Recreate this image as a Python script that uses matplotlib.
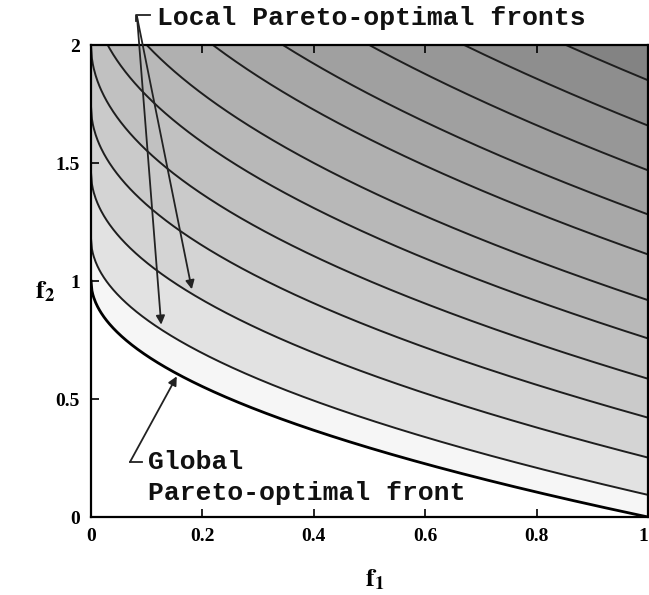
import numpy as np
import matplotlib
matplotlib.use("Agg")
import matplotlib.pyplot as plt

plt.rcParams["mathtext.fontset"] = "stix"

# g-levels of the fronts (global front g=1, then local fronts)
g_values = [1.0, 1.18, 1.46, 1.74, 2.0, 2.26, 2.5, 2.78, 3.02, 3.28, 3.54, 3.8]
band_grays = ["#f6f6f6", "#e2e2e2", "#d4d4d4", "#cacaca", "#c1c1c1", "#b8b8b8",
              "#b0b0b0", "#a8a8a8", "#a0a0a0", "#979797", "#8e8e8e", "#838383"]
x_ticks = [0, 0.2, 0.4, 0.6, 0.8, 1]
x_tick_labels = ["0", "0.2", "0.4", "0.6", "0.8", "1"]
y_ticks = [0, 0.5, 1, 1.5, 2]
y_tick_labels = ["0", "0.5", "1", "1.5", "2"]

f1 = np.linspace(0, 1, 600)


def front(g):
    return g - np.sqrt(g * f1)


fig = plt.figure(figsize=(6.49, 5.95), dpi=100)
ax = fig.add_axes([91 / 649, 78 / 595, 557 / 649, 472 / 595])
ax.set_xlim(0, 1)
ax.set_ylim(0, 2)

# shaded bands between consecutive fronts
for i, g in enumerate(g_values):
    lower = front(g)
    upper = front(g_values[i + 1]) if i + 1 < len(g_values) else np.full_like(f1, 2.0)
    ax.fill_between(f1, np.minimum(lower, 2), np.minimum(upper, 2),
                    color=band_grays[i], lw=0, zorder=1)

# front lines
for i, g in enumerate(g_values):
    if i == 0:
        ax.plot(f1, front(g), color="black", lw=2.0, zorder=3)
    else:
        ax.plot(f1, front(g), color="#1e1e1e", lw=1.4, zorder=3)

ax.set_xticks(x_ticks)
ax.set_xticklabels(x_tick_labels)
ax.set_yticks(y_ticks)
ax.set_yticklabels(y_tick_labels)
ax.tick_params(direction="in", length=6, width=1.2, top=True, right=False,
               labelsize=14, pad=8)
for lab in ax.get_xticklabels() + ax.get_yticklabels():
    lab.set_fontfamily("Liberation Serif")
    lab.set_fontweight("bold")
ax.get_xticklabels()[-1].set_ha("right")
for s in ax.spines.values():
    s.set_linewidth(1.6)
    s.set_zorder(5)

ax.set_xlabel(r"$\mathbf{f}_\mathbf{1}$", fontsize=19)
ax.set_ylabel(r"$\mathbf{f}_\mathbf{2}$", fontsize=19, rotation=0)
ax.yaxis.set_label_coords(-0.083, 0.45)
ax.xaxis.set_label_coords(0.51, -0.105)

mono = dict(family="Liberation Mono", fontweight="bold", fontsize=19, color="#111111")

# Local fronts annotation
ax.text(0.1185, 2.115, "Local Pareto-optimal fronts", ha="left", va="center",
        clip_on=False, **mono)
ax.plot([0.0808, 0.0808, 0.106], [2.10, 2.127, 2.127], color="#222222", lw=1.3,
        clip_on=False, zorder=6)
for tip in [(0.126, 0.815), (0.181, 0.965)]:
    ax.annotate("", xy=tip, xytext=(0.0826, 2.12), xycoords="data",
                annotation_clip=False,
                arrowprops=dict(arrowstyle="-|>", color="#222222", lw=1.3,
                                mutation_scale=13, shrinkA=0, shrinkB=0),
                zorder=6)

# Global front annotation
ax.plot([0.0916, 0.070], [0.233, 0.233], color="#222222", lw=1.3, zorder=6)
ax.annotate("", xy=(0.154, 0.596), xytext=(0.070, 0.233), xycoords="data",
            arrowprops=dict(arrowstyle="-|>", color="#222222", lw=1.3,
                            mutation_scale=13, shrinkA=0, shrinkB=0),
            zorder=6)
ax.text(0.102, 0.233, "Global", ha="left", va="center", zorder=6, **mono)
ax.text(0.102, 0.102, "Pareto-optimal front", ha="left", va="center", zorder=6, **mono)

fig.savefig("out.png", dpi=100, facecolor="white")
